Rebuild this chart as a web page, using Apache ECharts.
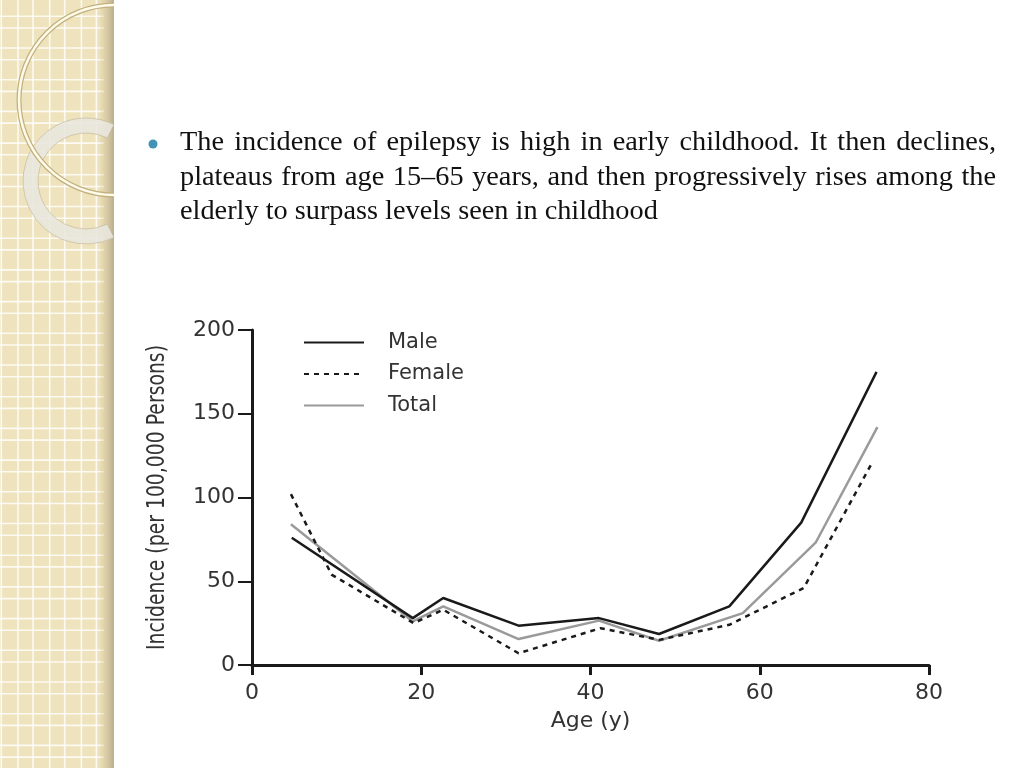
<!DOCTYPE html>
<html>
<head>
<meta charset="utf-8">
<script src="https://cdn.jsdelivr.net/npm/echarts@6/dist/echarts.min.js"></script>
<style>
html,body{margin:0;padding:0;background:#fff;}
#c{width:1024px;height:768px;}
</style>
</head>
<body>
<div id="c"></div>
<script>
// ---- data ----
var seriesNames = ['Male', 'Female', 'Total'];
var ageMale = [4.7, 19, 22.6, 31.5, 41, 48.1, 56.4, 64.9, 73.8];
var male = [76, 28, 40, 23.5, 28, 18.5, 35, 85, 175];
var ageFemale = [4.6, 9.4, 19.1, 22.6, 31.5, 41.2, 48.1, 56.4, 65.2, 73.3];
var female = [102, 54, 25, 33, 7, 22, 15, 24, 46, 121];
var ageTotal = [4.6, 19, 22.6, 31.5, 41, 48.1, 58, 66.6, 73.9];
var total = [84, 26, 35, 15.5, 26.5, 14.5, 31, 73, 142];
var xTicks = [0, 20, 40, 60, 80];
var yTicks = [0, 50, 100, 150, 200];
var bulletLines = [
  'The incidence of epilepsy is high in early childhood. It then declines,',
  'plateaus from age 15\u201365 years, and then progressively rises among the',
  'elderly to surpass levels seen in childhood'
];
var xName = 'Age (y)';
var yName = 'Incidence (per 100,000 Persons)';

function pairs(xs, ys) { return xs.map(function (x, i) { return [x, ys[i]]; }); }

var canvas = document.createElement('canvas');
var ctx = canvas.getContext('2d');

// ---- decorative left strip ----
var graphics = [];
graphics.push({type:'rect', shape:{x:0,y:0,width:114,height:768}, style:{fill:'#efe3bd'}, z:-10});
var period = 31.7;
for (var k = -1; k < 5; k++) {
  [18, 33].forEach(function (o) {
    var x = o + k * period;
    if (x > 0 && x < 104) graphics.push({type:'line', shape:{x1:x,y1:0,x2:x,y2:768}, style:{stroke:'rgba(255,255,255,0.8)', lineWidth:1.6}, z:-9});
  });
}
for (var k2 = -1; k2 < 26; k2++) {
  [16.3, 28].forEach(function (o) {
    var y = o + k2 * period;
    if (y > 0 && y < 768) graphics.push({type:'line', shape:{x1:0,y1:y,x2:104,y2:y}, style:{stroke:'rgba(255,255,255,0.8)', lineWidth:1.6}, z:-9});
  });
}
graphics.push({type:'rect', shape:{x:98,y:0,width:16,height:768},
  style:{fill:{type:'linear',x:0,y:0,x2:1,y2:0,colorStops:[{offset:0,color:'rgba(200,185,140,0)'},{offset:0.7,color:'rgba(185,172,135,0.6)'},{offset:1,color:'rgba(170,160,130,0.8)'}]}}, z:-8});
// thick pale ring (left part only)
graphics.push({type:'sector', shape:{cx:86,cy:181,r:63,r0:48,startAngle:Math.acos(28/63),endAngle:2*Math.PI-Math.acos(28/63),clockwise:true},
  style:{fill:'rgba(232,230,222,0.88)', stroke:'rgba(190,180,150,0.6)', lineWidth:1}, z:-7});
// big thin ring (left half)
graphics.push({type:'arc', shape:{cx:114,cy:100,r:95,startAngle:Math.PI/2,endAngle:Math.PI*1.5,clockwise:true},
  style:{stroke:'#c2b07e', lineWidth:5, fill:null}, z:-6});
graphics.push({type:'arc', shape:{cx:114,cy:100,r:95,startAngle:Math.PI/2,endAngle:Math.PI*1.5,clockwise:true},
  style:{stroke:'#fffbea', lineWidth:2.5, fill:null}, z:-6});

// ---- bullet text (justified) ----
var fam = '"Liberation Serif", "Times New Roman", serif';
ctx.font = '24px ' + fam;
var fs = 24 * 478 / ctx.measureText(bulletLines[2]).width;
ctx.font = fs + 'px ' + fam;
var left = 180, right = 996;
var lineYs = [143, 177.5, 211.5];
bulletLines.forEach(function (line, li) {
  var words = line.split(' ');
  if (li < 2) {
    var wsum = 0;
    words.forEach(function (w) { wsum += ctx.measureText(w).width; });
    var gap = (right - left - wsum) / (words.length - 1);
    var x = left;
    words.forEach(function (w) {
      graphics.push({type:'text', x:x, y:lineYs[li], style:{text:w, fontFamily:fam, fontSize:fs, fill:'#111', textVerticalAlign:'middle'}});
      x += ctx.measureText(w).width + gap;
    });
  } else {
    graphics.push({type:'text', x:left, y:lineYs[li], style:{text:line, fontFamily:fam, fontSize:fs, fill:'#111', textVerticalAlign:'middle'}});
  }
});
graphics.push({type:'circle', shape:{cx:153,cy:144,r:4.5}, style:{fill:'#4195b2'}});

// ---- y-axis title, condensed ----
var axisFont = '"DejaVu Sans", sans-serif';
var yNameSize = 25;
ctx.font = yNameSize + 'px ' + axisFont;
var yNameScale = 305 / ctx.measureText(yName).width;
graphics.push({type:'text', x:157, y:497.5, rotation:Math.PI/2, scaleX:yNameScale, scaleY:1,
  style:{text:yName, fontFamily:axisFont, fontSize:yNameSize, fill:'#333', textAlign:'center', textVerticalAlign:'middle'}});

var chart = echarts.init(document.getElementById('c'));
chart.setOption({
  animation: false,
  backgroundColor: '#fff',
  graphic: graphics,
  grid: {left: 252, right: 95, top: 330, bottom: 103},
  legend: {
    data: seriesNames, orient: 'vertical', left: 303, top: 332, padding: 0,
    itemWidth: 60, itemHeight: 16, itemGap: 10.5,
    itemStyle: {opacity: 0},
    textStyle: {fontFamily: axisFont, fontSize: 21, color: '#333', padding: [0,0,0,19]}
  },
  xAxis: {
    type: 'value', min: xTicks[0], max: xTicks[xTicks.length-1], interval: 20,
    name: xName, nameLocation: 'middle', nameGap: 45,
    nameTextStyle: {fontFamily: axisFont, fontSize: 22, color: '#333'},
    axisLine: {lineStyle: {color: '#1a1a1a', width: 3}},
    axisTick: {show: true, inside: false, length: 10, lineStyle: {color: '#1a1a1a', width: 3}},
    axisLabel: {margin: 17, fontFamily: axisFont, fontSize: 22, color: '#333'},
    splitLine: {show: false}
  },
  yAxis: {
    type: 'value', min: yTicks[0], max: yTicks[yTicks.length-1], interval: 50,
    axisLine: {show: true, lineStyle: {color: '#1a1a1a', width: 3}},
    axisTick: {show: true, inside: false, length: 14, lineStyle: {color: '#1a1a1a', width: 2}},
    axisLabel: {margin: 17, fontFamily: axisFont, fontSize: 22, color: '#333'},
    splitLine: {show: false}
  },
  series: [
    {name: seriesNames[2], type: 'line', symbol: 'none', data: pairs(ageTotal, total),
     lineStyle: {color: '#9a9a9a', width: 2.5}, itemStyle: {color: '#9a9a9a'}, z: 2},
    {name: seriesNames[1], type: 'line', symbol: 'none', data: pairs(ageFemale, female),
     lineStyle: {color: '#1a1a1a', width: 2.5, type: [5, 5]}, itemStyle: {color: '#1a1a1a'}, z: 3},
    {name: seriesNames[0], type: 'line', symbol: 'none', data: pairs(ageMale, male),
     lineStyle: {color: '#1a1a1a', width: 2.5}, itemStyle: {color: '#1a1a1a'}, z: 4}
  ]
});
</script>
</body>
</html>
